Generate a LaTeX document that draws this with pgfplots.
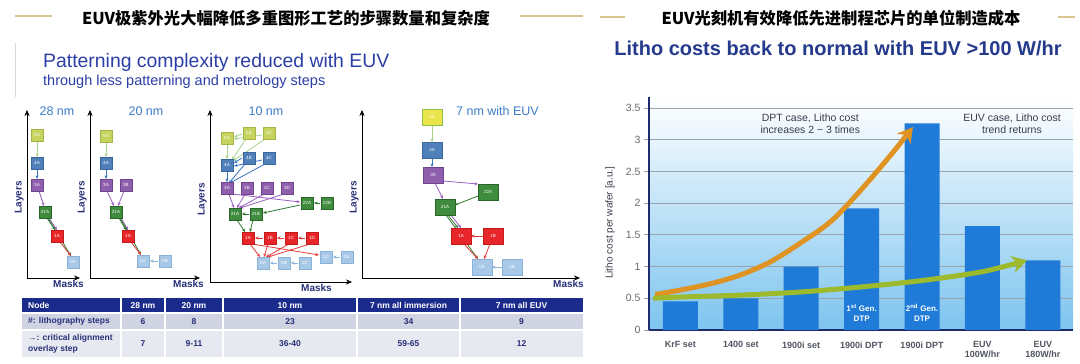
\documentclass[border=0pt]{standalone}
\usepackage{pgfplots}
\pgfplotsset{compat=1.18}
\usepackage{fontspec}
\setmainfont{Liberation Sans}
\newfontfamily\cjk{Noto Sans CJK SC}
\usetikzlibrary{arrows.meta}

\definecolor{axisnavy}{HTML}{1E2C6E}
\definecolor{pnavy}{HTML}{28307A}
\definecolor{gridgray}{HTML}{9AA4AE}
\definecolor{bgmid}{HTML}{E2F1FB}
\definecolor{bgbot}{HTML}{7DC4EF}
\definecolor{barblue}{HTML}{1F7AD8}
\definecolor{arrorange}{HTML}{DE9322}
\definecolor{arrgreen}{HTML}{9CBA2C}
\definecolor{ticklab}{HTML}{505560}
\definecolor{ytl}{HTML}{666A70}
\definecolor{anntext}{HTML}{3A3C4A}
\definecolor{titlenavy}{HTML}{253A8C}
\definecolor{pattblue}{HTML}{2C3FA6}
\definecolor{gold}{HTML}{D9C48F}
\definecolor{ptitle}{HTML}{3D7CC9}
\definecolor{thead}{HTML}{1B2B8C}
\definecolor{trowa}{HTML}{CFD3E2}
\definecolor{trowb}{HTML}{E7E9F0}
\definecolor{ttext}{HTML}{28307A}
% box colours
\definecolor{f5}{HTML}{C6D45E}\definecolor{d5}{HTML}{A6B548}
\definecolor{f5b}{HTML}{EAE54A}\definecolor{d5b}{HTML}{8DC04A}
\definecolor{f4}{HTML}{4F80BA}\definecolor{d4}{HTML}{3A679E}
\definecolor{f3}{HTML}{8F5FAE}\definecolor{d3}{HTML}{6E458C}
\definecolor{f2}{HTML}{3F8C3F}\definecolor{d2}{HTML}{2A662A}
\definecolor{f1}{HTML}{E8262A}\definecolor{d1}{HTML}{C21B1B}
\definecolor{f0}{HTML}{A8C8E7}\definecolor{d0}{HTML}{8AB1D8}
% arrow colours
\definecolor{a5}{HTML}{A6D38A}
\definecolor{a4}{HTML}{3B74C0}
\definecolor{a3}{HTML}{9A60C0}
\definecolor{a2}{HTML}{2F7A2F}
\definecolor{a1}{HTML}{E33A3A}
\definecolor{a0}{HTML}{8FB6DE}

\newcommand\fs[2]{\fontsize{#1}{#2}\selectfont}
\newcommand\px[2]{(#1pt,364pt-#2pt)}
\newcommand\bx[5]{\addplot[only marks, mark=square*, mark size=#1,
  mark options={fill=#2, draw=#3, line width=0.6pt, #4},
  nodes near coords, point meta=explicit symbolic,
  nodes near coords style={anchor=center, font=\fs{4.5}{5}, text=white, inner sep=0pt}]
  coordinates {#5};}
\newcommand\ar[5]{\addplot[draw=#1, line width=0.8pt, -{Stealth[length=3.5pt,width=3pt]}] coordinates {(#2,#3) (#4,#5)};}

\pgfplotsset{panel/.style={scale only axis, anchor=south west,
  axis lines=left, xtick=\empty, ytick=\empty, clip=false,
  axis line style={draw=pnavy, line width=1.2pt},
  every inner x axis line/.style={-{Stealth[length=6pt,width=5pt]}},
  every outer x axis line/.style={-{Stealth[length=6pt,width=5pt]}},
  every inner y axis line/.style={-{Stealth[length=6pt,width=5pt]}},
  every outer y axis line/.style={-{Stealth[length=6pt,width=5pt]}},
  xlabel=Masks, ylabel=Layers,
  xlabel style={font=\fs{10}{12}\bfseries, text=pnavy, at={(rel axis cs:1,0)}, anchor=north east, xshift=6pt, inner sep=2pt},
  ylabel style={font=\fs{10}{12}\bfseries, text=pnavy, at={(rel axis cs:0,0.48)}, anchor=south, inner sep=3pt}
}}

\begin{document}
\begin{tikzpicture}
\path[use as bounding box, fill=white] (0,0) rectangle (1080pt,364pt);

% ---------- titles ----------
\draw[gold, line width=1.5pt] \px{15}{16} -- \px{52}{16};
\draw[gold, line width=1.5pt] \px{520}{16} -- \px{583}{16};
\draw[gold, line width=1.5pt] \px{600}{17} -- \px{625}{17};
\draw[gold, line width=1.5pt] \px{1058}{17} -- \px{1075}{17};
\node[font=\cjk\bfseries\fs{16.3}{18}, inner sep=0pt] at \px{286}{18} {EUV极紫外光大幅降低多重图形工艺的步骤数量和复杂度};
\node[font=\cjk\bfseries\fs{16.3}{18}, inner sep=0pt] at \px{841}{18} {EUV光刻机有效降低先进制程芯片的单位制造成本};

\draw[black!15, line width=1pt] \px{15}{43} -- \px{15}{97};
\node[anchor=west, inner sep=0pt, font=\fs{19.4}{21}, text=pattblue] at \px{43}{62} {Patterning complexity reduced with EUV};
\node[anchor=west, inner sep=0pt, font=\fs{14.5}{16}, text=pattblue] at \px{43}{82} {through less patterning and metrology steps};

\node[font=\bfseries\fs{20}{22}, text=titlenavy, inner sep=0pt] at \px{838}{48} {Litho costs back to normal with EUV >100 W/hr};

% ---------- table ----------
\fill[thead] \px{22}{298} rectangle \px{583}{313};
\fill[trowa] \px{22}{313} rectangle \px{583}{330};
\fill[trowb] \px{22}{330} rectangle \px{583}{357};
\foreach \c in {121,165,223,357,460} {\draw[white, line width=1.2pt] \px{\c}{298} -- \px{\c}{357};}
\draw[white, line width=1.2pt] \px{22}{313} -- \px{583}{313};
\draw[white, line width=1.2pt] \px{22}{330} -- \px{583}{330};
\begin{scope}[every node/.style={font=\bfseries\fs{8.5}{10.5}, inner sep=0pt}]
\node[text=white, anchor=west] at \px{28}{305.5} {Node};
\node[text=white] at \px{143}{305.5} {28 nm};
\node[text=white] at \px{194}{305.5} {20 nm};
\node[text=white] at \px{290}{305.5} {10 nm};
\node[text=white] at \px{408.5}{305.5} {7 nm all immersion};
\node[text=white] at \px{521.5}{305.5} {7 nm all EUV};
\node[text=ttext, anchor=west] at \px{28}{321.5} {\#: lithography steps};
\node[text=ttext] at \px{143}{321.5} {6};
\node[text=ttext] at \px{194}{321.5} {8};
\node[text=ttext] at \px{290}{321.5} {23};
\node[text=ttext] at \px{408.5}{321.5} {34};
\node[text=ttext] at \px{521.5}{321.5} {9};
\node[text=ttext, anchor=west, align=left] at \px{28}{344} {→: critical alignment\\overlay step};
\node[text=ttext] at \px{143}{343.5} {7};
\node[text=ttext] at \px{194}{343.5} {9-11};
\node[text=ttext] at \px{290}{343.5} {36-40};
\node[text=ttext] at \px{408.5}{343.5} {59-65};
\node[text=ttext] at \px{521.5}{343.5} {12};
\end{scope}

% ---------- panel 1: 28 nm ----------
\begin{axis}[panel, at={(27pt,86pt)}, width=53pt, height=168pt,
  xmin=27, xmax=80, ymin=-278, ymax=-110]
\node[font=\fs{12.5}{14}, text=ptitle] at (axis cs:57,-111) {28 nm};
\bx{6pt}{f5}{d5}{}{(37,-135) [5A]}
\bx{6pt}{f4}{d4}{}{(37,-163) [4A]}
\bx{6pt}{f3}{d3}{}{(37,-185) [3A]}
\bx{6pt}{f2}{d2}{}{(45,-212) [21A]}
\bx{6pt}{f1}{d1}{}{(57,-236) [1A]}
\bx{6pt}{f0}{d0}{}{(73,-262) [0A]}
\ar{a5}{37}{-141}{37}{-157}
\ar{a4}{37}{-169}{37}{-179}
\ar{a3}{39}{-191}{44}{-206}
\ar{a2}{47}{-218}{55}{-230}
\ar{a3}{49}{-218}{57}{-230}
\ar{a2}{48}{-218}{71}{-256}
\ar{a1}{60}{-242}{71}{-256}
\end{axis}

% ---------- panel 2: 20 nm ----------
\begin{axis}[panel, at={(90pt,86pt)}, width=110pt, height=168pt,
  xmin=90, xmax=200, ymin=-278, ymax=-110]
\node[font=\fs{12.5}{14}, text=ptitle] at (axis cs:146,-111) {20 nm};
\bx{6pt}{f5}{d5}{}{(106,-136) [5A]}
\bx{6pt}{f4}{d4}{}{(106,-163) [4A]}
\bx{6pt}{f3}{d3}{}{(106,-185) [3A] (126,-185) [3B]}
\bx{6pt}{f2}{d2}{}{(116,-212) [21A]}
\bx{6pt}{f1}{d1}{}{(128,-236) [1A]}
\bx{6pt}{f0}{d0}{}{(143,-261) [0A] (165,-261) [0B]}
\ar{a5}{106}{-142}{106}{-157}
\ar{a4}{106}{-169}{106}{-179}
\ar{a3}{107}{-191}{114}{-206}
\ar{a3}{124}{-191}{118}{-206}
\ar{a2}{119}{-218}{126}{-230}
\ar{a3}{121}{-218}{128}{-230}
\ar{a2}{120}{-218}{141}{-255}
\ar{a1}{131}{-242}{141}{-255}
\ar{a0}{158}{-261}{150}{-261}
\end{axis}

% ---------- panel 3: 10 nm ----------
\begin{axis}[panel, at={(210pt,82pt)}, width=142pt, height=172pt,
  xmin=210, xmax=352, ymin=-282, ymax=-110,
  xlabel style={xshift=-24pt}]
\node[font=\fs{12.5}{14}, text=ptitle] at (axis cs:266,-111) {10 nm};
\ar{a5}{242}{-134}{234}{-137}
\ar{a5}{262}{-135}{234}{-139}
\ar{a5}{227}{-144}{227}{-159}
\ar{a5}{246}{-139}{232}{-160}
\ar{a5}{265}{-139}{233}{-161}
\ar{a4}{242}{-158}{234}{-163}
\ar{a4}{262}{-160}{234}{-166}
\ar{a4}{227}{-171}{227}{-182}
\ar{a4}{245}{-164}{229}{-183}
\ar{a4}{265}{-164}{230}{-183}
\ar{a3}{229}{-194}{234}{-208}
\ar{a3}{245}{-194}{237}{-208}
\ar{a3}{264}{-194}{239}{-208}
\ar{a3}{284}{-194}{240}{-208}
\ar{a3}{232}{-194}{300}{-202}
\ar{a2}{249}{-214}{242}{-214}
\ar{a2}{300}{-205}{263}{-213}
\ar{a2}{320}{-203}{314}{-203}
\ar{a2}{237}{-220}{245}{-232}
\ar{a2}{253}{-220}{250}{-232}
\ar{a1}{263}{-238}{255}{-238}
\ar{a1}{284}{-238}{277}{-238}
\ar{a1}{305}{-238}{298}{-238}
\ar{a1}{250}{-244}{260}{-257}
\ar{a1}{268}{-244}{264}{-257}
\ar{a1}{289}{-244}{266}{-257}
\ar{a1}{310}{-244}{268}{-257}
\ar{a1}{252}{-244}{319}{-255}
\ar{a0}{277}{-263}{270}{-263}
\ar{a0}{298}{-263}{291}{-263}
\ar{a0}{340}{-257}{333}{-257}
\bx{6pt}{f5}{d5}{}{(227,-138) [5A] (249,-133) [5B] (269,-133) [5C]}
\bx{6pt}{f4}{d4}{}{(227,-165) [4A] (249,-158) [4B] (269,-158) [4C]}
\bx{6pt}{f3}{d3}{}{(227,-188) [3A] (247,-188) [3B] (267,-188) [3C] (287,-188) [3D]}
\bx{6pt}{f2}{d2}{}{(307,-203) [22A] (327,-203) [22B] (235,-214) [21A] (256,-214) [21B]}
\bx{6pt}{f1}{d1}{}{(248,-238) [1A] (270,-238) [1B] (291,-238) [1C] (312,-238) [1D]}
\bx{6pt}{f0}{d0}{}{(326,-257) [0D] (347,-257) [0E] (263,-263) [0A] (284,-263) [0B] (305,-263) [0C]}
\end{axis}

% ---------- panel 4: 7 nm with EUV ----------
\begin{axis}[panel, at={(362pt,86pt)}, width=218pt, height=168pt,
  xmin=362, xmax=580, ymin=-278, ymax=-110]
\node[font=\fs{12.5}{14}, text=ptitle] at (axis cs:497.5,-111) {7 nm with EUV};
\ar{a5}{432}{-125}{432}{-142}
\ar{a4}{432}{-158}{432}{-167}
\ar{a3}{443}{-181}{478}{-184}
\ar{a3}{435}{-183}{443}{-199}
\ar{a2}{478}{-196}{455}{-205}
\ar{a2}{448}{-215}{458}{-228}
\ar{a3}{451}{-215}{461}{-228}
\ar{a2}{446}{-215}{478}{-259}
\ar{a1}{483}{-236}{471}{-236}
\ar{a1}{464}{-244}{478}{-259}
\ar{a1}{490}{-244}{484}{-259}
\ar{a0}{502}{-267}{492}{-267}
\bx{8pt}{f5b}{d5b}{xscale=1.25}{(432,-117) [5A]}
\bx{8pt}{f4}{d4}{xscale=1.25}{(432,-150) [4A]}
\bx{8pt}{f3}{d3}{xscale=1.25}{(433,-175) [3A]}
\bx{8pt}{f2}{d2}{xscale=1.25}{(488,-192) [22A] (445,-207) [21A]}
\bx{8pt}{f1}{d1}{xscale=1.25}{(461,-236) [1A] (493,-236) [1B]}
\bx{8pt}{f0}{d0}{xscale=1.25}{(482,-267) [0A] (512,-267) [0B]}
\end{axis}

% ---------- bar chart ----------
\begin{axis}[
  at={(649pt,34pt)}, anchor=south west, scale only axis,
  width=424pt, height=233pt,
  xmin=-0.52, xmax=6.5, ymin=0, ymax=3.675,
  axis lines*=left,
  axis line style={draw=axisnavy, line width=1.6pt},
  axis background/.style={top color=white, middle color=bgmid, bottom color=bgbot},
  ytick={0,0.5,1,1.5,2,2.5,3,3.5},
  yticklabels={0,0.5,1,1.5,2,2.5,3,3.5},
  ymajorgrids, grid style={draw=gridgray, line width=0.8pt},
  ytick style={draw=gridgray, line width=0.8pt},
  tick align=outside, major tick length=5pt,
  xtick={0,1,2,3,4,5,6},
  xticklabels={KrF set,1400 set,1900i set,1900i DPT,1900i DPT,{EUV\\100W/hr},{EUV\\180W/hr}},
  xtick style={draw=none},
  xticklabel style={align=center, font=\bfseries\fs{9}{10}, text=ticklab, yshift=-3pt},
  yticklabel style={font=\fs{10.5}{12}, text=ytl},
  ylabel={Litho cost per wafer [a.u.]},
  ylabel style={at={(axis description cs:-0.092,0.46)}, anchor=center, font=\fs{10}{12}, text=anntext},
  clip=false,
]
\addplot[ybar, bar width=35pt, fill=barblue, draw=none]
  coordinates {(0,0.45) (1,0.5) (2,1.0) (3,1.92) (4,3.26) (5,1.64) (6,1.1)};
\addplot[smooth, draw=arrorange, line width=5pt, -{Stealth[length=15pt,width=17pt]}]
  coordinates {(-0.42,0.56) (0,0.63) (0.5,0.73) (1,0.87) (1.5,1.08) (2,1.38) (2.5,1.72) (3,2.22) (3.5,2.78) (3.85,3.2)};
\addplot[smooth, draw=arrgreen, line width=5pt, -{Stealth[length=15pt,width=17pt]}]
  coordinates {(-0.45,0.5) (0,0.52) (1,0.55) (2,0.6) (3,0.68) (4,0.78) (5,0.92) (5.74,1.1)};
\node[align=center, font=\fs{10.5}{12}, text=anntext] at (axis cs:2.15,3.25) {DPT case, Litho cost\\increases 2 \textasciitilde{} 3 times};
\node[align=center, font=\fs{10.5}{12}, text=anntext] at (axis cs:5.49,3.25) {EUV case, Litho cost\\trend returns};
\node[align=center, font=\bfseries\fs{8}{10}, text=white] at (axis cs:3,0.27) {1\textsuperscript{st} Gen.\\DTP};
\node[align=center, font=\bfseries\fs{8}{10}, text=white] at (axis cs:4,0.27) {2\textsuperscript{nd} Gen.\\DTP};
\end{axis}
\end{tikzpicture}
\end{document}
